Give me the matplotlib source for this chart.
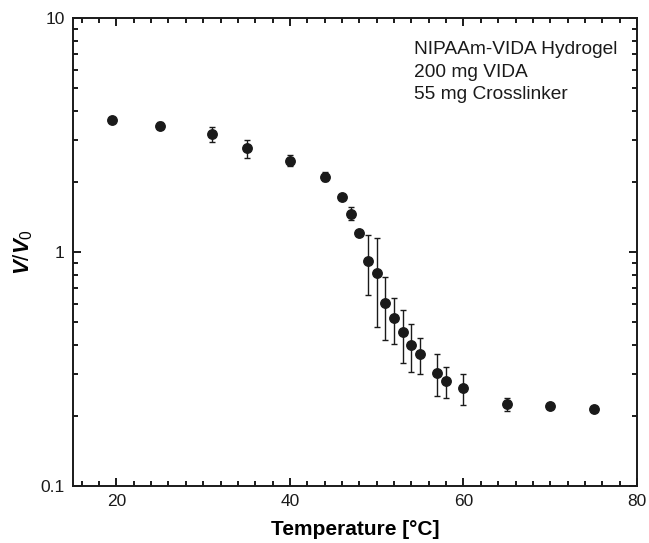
import matplotlib
matplotlib.use("Agg")
import matplotlib.pyplot as plt
from matplotlib.ticker import MultipleLocator, LogLocator, FixedLocator, FixedFormatter, NullFormatter

plt.rcParams['font.family'] = ['Liberation Sans', 'DejaVu Sans']
plt.rcParams['mathtext.fontset'] = 'custom'
plt.rcParams['mathtext.rm'] = 'Liberation Sans'
plt.rcParams['mathtext.it'] = 'Liberation Sans:italic:bold'
plt.rcParams['mathtext.bf'] = 'Liberation Sans:bold'

temperature = [19.5, 25, 31, 35, 40, 44, 46, 47, 48, 49, 50, 51, 52, 53, 54, 55, 57, 58, 60, 65, 70, 75]
ratio = [3.65, 3.47, 3.20, 2.77, 2.46, 2.10, 1.72, 1.46, 1.21, 0.915, 0.81, 0.604, 0.524, 0.454, 0.402, 0.365, 0.303, 0.280, 0.262, 0.223, 0.220, 0.214]
err_upper = [3.70, 3.58, 3.43, 3.00, 2.61, 2.19, 1.76, 1.55, 1.23, 1.18, 1.15, 0.785, 0.638, 0.567, 0.494, 0.427, 0.365, 0.324, 0.302, 0.237, 0.224, 0.218]
err_lower = [3.60, 3.36, 2.95, 2.52, 2.32, 2.02, 1.68, 1.37, 1.19, 0.653, 0.477, 0.420, 0.403, 0.334, 0.306, 0.300, 0.243, 0.237, 0.222, 0.209, 0.216, 0.210]

x_ticks = [20, 40, 60, 80]
y_ticks = [0.1, 1, 10]
y_tick_labels = ['0.1', '1', '10']
annotation = "NIPAAm-VIDA Hydrogel\n200 mg VIDA\n55 mg Crosslinker"

yerr = [[r - lo for r, lo in zip(ratio, err_lower)],
        [hi - r for r, hi in zip(ratio, err_upper)]]

fig = plt.figure(figsize=(6.49, 5.43), dpi=100)
ax = fig.add_axes([73/649, 57/543, 564/649, 468/543])

ax.errorbar(temperature, ratio, yerr=yerr, fmt='o', color='#1a1a1a', ecolor='#1a1a1a',
            markersize=6.8, elinewidth=1.0, capsize=2.4, capthick=1.0)

ax.set_yscale('log')
ax.set_xlim(15, 80)
ax.set_ylim(0.1, 10)

ax.xaxis.set_major_locator(FixedLocator(x_ticks))
ax.xaxis.set_minor_locator(MultipleLocator(2))
ax.yaxis.set_major_locator(FixedLocator(y_ticks))
ax.yaxis.set_major_formatter(FixedFormatter(y_tick_labels))
ax.yaxis.set_minor_locator(LogLocator(base=10, subs=range(2, 10)))
ax.yaxis.set_minor_formatter(NullFormatter())

ax.tick_params(which='both', direction='in', top=True, right=True, width=1.4, colors='#1a1a1a',
               labelsize=12.5, pad=6)
ax.tick_params(which='major', length=6)
ax.tick_params(which='minor', length=3.5)
for s in ax.spines.values():
    s.set_linewidth(1.4)
    s.set_color('#1a1a1a')

ax.set_xlabel('Temperature [°C]', fontsize=15, fontweight='bold', labelpad=8)
ax.set_ylabel(r'$\mathit{V/V}_{\mathit{0}}$', fontsize=16, labelpad=4)

ax.text(0.605, 0.95, annotation, transform=ax.transAxes, ha='left', va='top',
        fontsize=13.8, linespacing=1.42, color='#1a1a1a')

fig.savefig('out.png', dpi=100)
